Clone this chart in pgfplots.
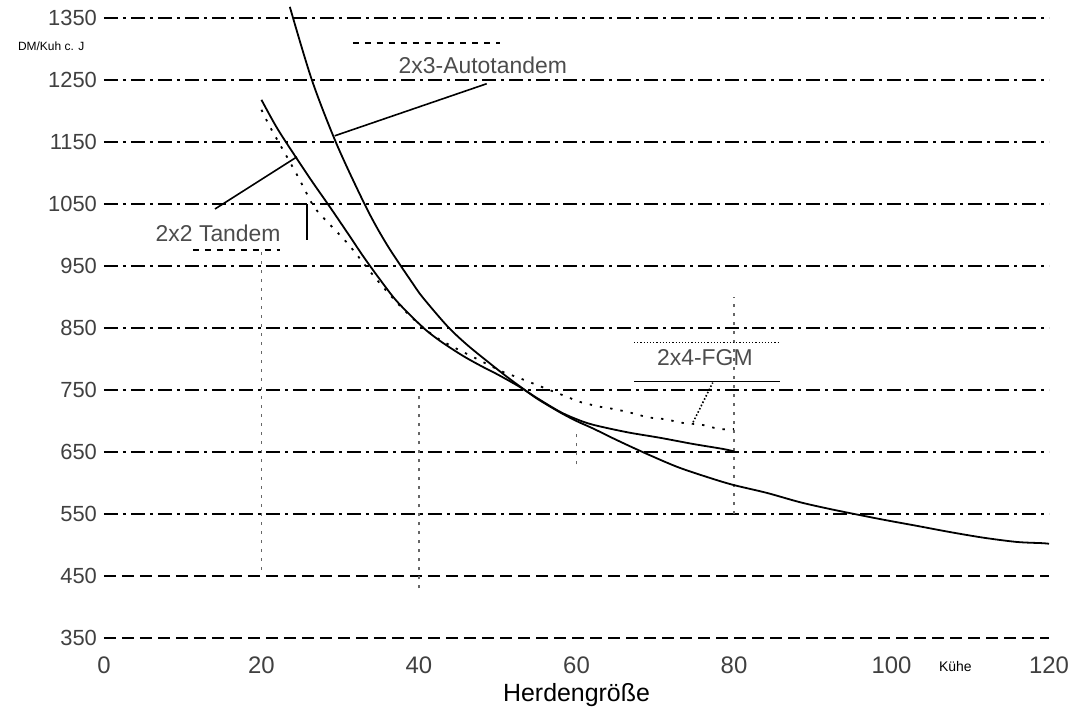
\documentclass[border=0pt]{standalone}
\usepackage{fontspec}
\setmainfont{Liberation Sans}
\usepackage{pgfplots}
\pgfplotsset{compat=1.18}

% Kosten je Kuh und Jahr
\pgfplotstableread{
x y
20 1218
22 1172
24.6 1121
26.5 1085
28.7 1045
31 1002
32.9 966
35 929
37.2 893
40.5 851
42.7 829
45.6 805
48 788
50 775
52.8 755
55 737
57.9 715
60 703
62.1 694
66.4 682
70.6 673
74.8 663
78.6 655
80 651
}\tandemzwei

\pgfplotstableread{
x y
23.6 1368
26.4 1250
29.6 1145
33.4 1042
36 983
39.2 922
40.5 899
43.6 853
46.1 823
49 793
51.2 771
52.8 756
55 736
57.9 714
60 700
62.1 688
65 670
68.4 650
72.8 626
77 608
79.9 597
84.2 584
88.4 569
92.6 557
98.5 542
103.2 531
107.4 521
111.6 512
115.9 505
119.2 503
120 502
}\autotandem

\pgfplotstableread{
x y
20 1202
21.1 1174
24.3 1102
25.5 1073
27 1040
30.9 987
34.7 927
38.5 874
42.3 834
47.7 798
50.7 779
52.4 771
55 758
58.8 739
60.4 731
63 723
64.9 719
67 713
69.1 706
71.2 703
73.5 697
75.9 694
78.2 687
80 687
}\fgm

\begin{document}
\begin{tikzpicture}
\begin{axis}[
  scale only axis,
  width=472.5bp, height=316.2bp,
  xmin=0, xmax=120, ymin=350, ymax=1370,
  axis line style={draw=none},
  tick style={draw=none},
  xtick={0,20,...,120},
  ytick={550,650,...,1350},
  extra y ticks={350,450},
  extra y tick style={grid style={black, line width=0.8bp, dash pattern=on 6bp off 3bp}},
  ymajorgrids,
  grid style={black, line width=0.9bp, dash pattern=on 7bp off 2.5bp on 1.5bp off 2.5bp},
  /pgf/number format/assume math mode=true,
  /pgf/number format/1000 sep={},
  ticklabel style={font=\fontsize{11}{12}\selectfont, text=black!75},
  xticklabel style={yshift=-6bp, font=\fontsize{12}{13}\selectfont},
  xlabel={Herdengröße},
  xlabel style={font=\fontsize{12.5}{14}\selectfont, yshift=2bp},
  clip=false,
]
% senkrechte Hilfslinien
\draw[black!60, line width=0.6bp, dash pattern=on 1.5bp off 3bp] (axis cs:20,460) -- (axis cs:20,980);
\draw[black!60, line width=0.6bp, dash pattern=on 1.5bp off 3bp] (axis cs:40,430) -- (axis cs:40,740);
\draw[black!60, line width=0.6bp, dash pattern=on 1.5bp off 3bp] (axis cs:60,630) -- (axis cs:60,680);
\draw[black!60, line width=0.6bp, dash pattern=on 1.5bp off 3bp] (axis cs:80,550) -- (axis cs:80,900);

\addplot[black, line width=0.9bp, no marks, smooth] table[x=x, y=y] {\tandemzwei};
\addplot[black, line width=0.9bp, no marks, smooth] table[x=x, y=y] {\autotandem};
\addplot[black, line width=0.9bp, no marks, smooth, dash pattern=on 1.2bp off 4bp] table[x=x, y=y] {\fgm};

% Beschriftungen
\node[font=\fontsize{11.5}{13}\selectfont, text=black!70] at (axis cs:48.1,1274) {2x3-Autotandem};
\draw[black, line width=0.8bp] (axis cs:29.3,1160) -- (axis cs:48.6,1244);
\draw[black, line width=0.8bp, dashed] (axis cs:31.6,1310) -- (axis cs:50.3,1310);

\node[font=\fontsize{11.5}{13}\selectfont, text=black!70] at (axis cs:14.5,1003) {2x2 Tandem};
\draw[black, line width=0.8bp] (axis cs:14.1,1042) -- (axis cs:24.5,1126);
\draw[black, line width=0.8bp, dashed] (axis cs:11.3,976) -- (axis cs:22.3,976);
\draw[black, line width=0.8bp] (axis cs:25.8,1050) -- (axis cs:25.8,992);

\node[font=\fontsize{11.5}{13}\selectfont, text=black!70] at (axis cs:76.3,802) {2x4-FGM};
\draw[black, line width=0.8bp, densely dotted] (axis cs:74.8,698) -- (axis cs:77.3,762);
\draw[black, line width=0.8bp] (axis cs:67.3,764) -- (axis cs:85.8,764);
\draw[black, line width=0.6bp, densely dotted] (axis cs:67.3,827) -- (axis cs:85.8,827);

\node[font=\fontsize{6}{7}\selectfont] at (axis cs:-6.7,1305) {DM/Kuh c. J};
\node[font=\fontsize{7}{8}\selectfont, yshift=-14bp] at (axis cs:108.1,350) {Kühe};

\coordinate (bl) at (rel axis cs:-0.110,-0.1123);
\coordinate (tr) at (rel axis cs:1.0317,1.00886);
\end{axis}
\pgfresetboundingbox
\path[use as bounding box] (bl) rectangle (tr);
\end{tikzpicture}
\end{document}
